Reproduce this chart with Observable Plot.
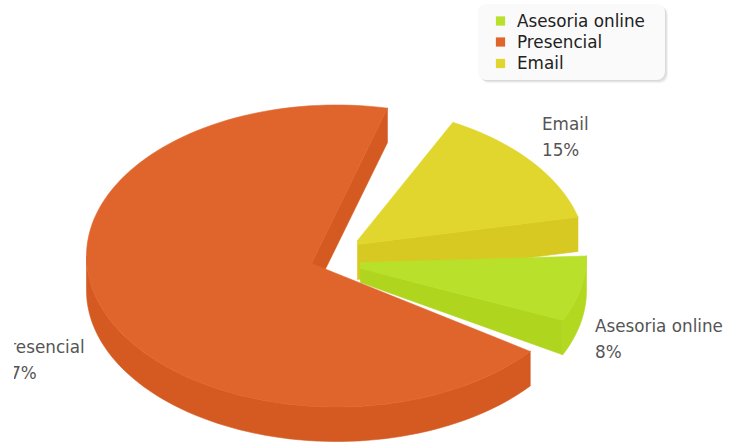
<!DOCTYPE html>
<html>
<head>
<meta charset="utf-8">
<script src="https://cdn.jsdelivr.net/npm/d3@7"></script>
<script src="https://cdn.jsdelivr.net/npm/@observablehq/plot@0.6"></script>
<style>
html,body{margin:0;padding:0;background:#fff;overflow:hidden}
svg{display:block}
</style>
</head>
<body>
<div id="chart"></div>
<script>
// Data
const categories = ["Asesoria online", "Presencial", "Email"];
const shares = [8, 77, 15];

// Styles and layout (separate from the data)
const topColors = ["#b9e02a", "#e0652d", "#e0d62d"];
const wallColors = ["#afd51f", "#d45a22", "#d8c822"];
const arcWallColors = ["#b3d820", "#d45a22", "#d8c822"];
const hubStart = [[360, 262], [311, 263], [357, 240]];
const hubEnd = [[360, 268], [311, 263], [357, 244]];
const hubBottom = [[360, 282], [311, 297], [357, 279]];
const labelSpots = [[594.5, 326, 352.5], [-1, 347.5, 373.5], [541.5, 124, 150.5]];
const legendRows = [20.7, 41.7, 62.7];
const swatchRows = [20.5, 41.5, 63];
const cx = 336, cy = 255.5, rx = 250, ry = 151, depth = 34.5;
const gaps = [14, 16, 15];

// Slice geometry from shares
const perUnit = (360 - d3.sum(gaps)) / d3.sum(shares);
let cursor = 0;
const slices = shares.map((v, i) => {
  const a0 = cursor, a1 = a0 + v * perUnit;
  cursor = a1 + gaps[i];
  return {i, a0, a1};
});
const pt = (deg, dy = 0) => {
  const r = deg * Math.PI / 180;
  return [cx + rx * Math.cos(r), cy + ry * Math.sin(r) + dy];
};
const arc = (a0, a1, dy = 0) => {
  const n = Math.max(2, Math.ceil(Math.abs(a1 - a0) / 2));
  return d3.range(n + 1).map(k => pt(a0 + (a1 - a0) * k / n, dy));
};
const poly = (pts, color) => Plot.line([...pts, pts[0]], {
  x: d => d[0], y: d => d[1], fill: color, stroke: color, strokeWidth: 0.6, curve: "linear"
});

const drawSlice = s => {
  const {i, a0, a1} = s, out = [];
  const visEnd = Math.min(a1, 180);
  if (i === 1) {
    // radial wall seen through the notch
    out.push(poly([pt(a1), hubStart[i], hubBottom[i], pt(a1, depth)], wallColors[i]));
    out.push(poly([...arc(a0, visEnd), ...arc(visEnd, a0, depth)], arcWallColors[i]));
  } else if (i === 0) {
    out.push(poly([pt(a1), hubEnd[i], hubBottom[i], pt(a1, depth)], wallColors[i]));
    out.push(poly([...arc(a0, visEnd), ...arc(visEnd, a0, depth)], arcWallColors[i]));
  } else {
    out.push(poly([pt(a1), hubEnd[i], hubBottom[i], pt(a1, depth)], wallColors[i]));
  }
  // top surface
  out.push(poly([hubStart[i], ...arc(a0, a1), hubEnd[i]], topColors[i]));
  return out;
};

const order = [2, 0, 1];

const shadow = [3, 2, 1].map(k => Plot.rect([0], {
  x1: () => 478 + k, x2: () => 665 + k, y1: () => 4 + k, y2: () => 80 + k,
  fill: "#000", fillOpacity: 0.05, rx: 8
}));

const plot = Plot.plot({
  width: 744,
  height: 443,
  marginTop: 0, marginRight: 0, marginBottom: 0, marginLeft: 14,
  x: {domain: [14, 744], axis: null},
  y: {domain: [0, 443], range: [0, 443], axis: null},
  style: {background: "#fff", fontFamily: "'DejaVu Sans', sans-serif"},
  marks: [
    ...order.flatMap(i => drawSlice(slices[i])),
    ...shadow,
    Plot.rect([0], {x1: () => 478, x2: () => 665, y1: () => 4, y2: () => 80, fill: "#fafafa", rx: 8}),
    Plot.dot(categories, {
      x: () => 500, y: (d, i) => swatchRows[i], symbol: "square", r: 5.2,
      fill: (d, i) => topColors[i], stroke: "none"
    }),
    Plot.text(categories, {
      x: () => 516.5, y: (d, i) => legendRows[i], text: d => d,
      textAnchor: "start", lineAnchor: "middle", fontSize: 16.8, fill: "#222"
    }),
    Plot.text(categories, {
      x: (d, i) => labelSpots[i][0], y: (d, i) => labelSpots[i][1], text: d => d,
      textAnchor: "start", lineAnchor: "middle", fontSize: 16.8, fill: "#555", clip: true
    }),
    Plot.text(shares, {
      x: (d, i) => labelSpots[i][0], y: (d, i) => labelSpots[i][2], text: d => d + "%",
      textAnchor: "start", lineAnchor: "middle", fontSize: 16.8, fill: "#555", clip: true
    })
  ]
});
document.getElementById("chart").append(plot);
</script>
</body>
</html>
